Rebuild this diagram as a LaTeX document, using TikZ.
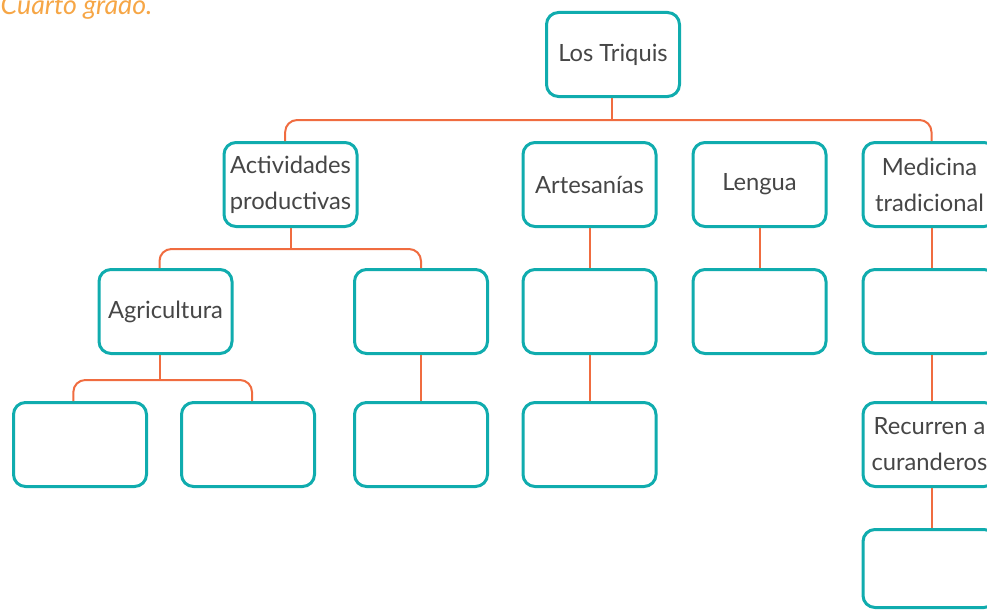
\documentclass[tikz,border=0pt]{standalone}
\usepackage{fontspec}
\setmainfont{Lato}
\definecolor{turquesa}{RGB}{16,172,174}
\definecolor{naranja}{RGB}{240,108,64}
\definecolor{titulo}{RGB}{246,166,70}
\definecolor{texto}{RGB}{70,70,70}
\begin{document}
\begin{tikzpicture}[x=0.75pt,y=-0.75pt,
  caja/.style={rectangle, rounded corners=9pt, draw=turquesa, line width=2.25pt, fill=white,
    minimum width=99.75pt, minimum height=63pt, inner sep=2pt, align=center, text=texto,
    font=\fontsize{17.8}{27}\selectfont},
  linea/.style={draw=naranja, line width=1.5pt}]
\useasboundingbox (0,0) rectangle (987,610);
\clip (0,0) rectangle (987,610);
\node [anchor=base west, text=titulo, font=\fontsize{20}{24}\selectfont\itshape] (grado) at (-4,15) {Cuarto grado.};
% primer nivel
\node [caja] (trq) at (613,54.5) {Los Triquis};
% segundo nivel
\node [caja] (act) at (290.5,184.5) {Actividades\\productivas};
\node [caja] (art) at (589.5,184.5) {Artesanías};
\node [caja] (len) at (759.5,184.5) {Lengua};
\node [caja] (med) at (929.5,184.5) {Medicina\\tradicional};
% tercer nivel
\node [caja] (agr) at (165.5,311.5) {Agricultura};
\node [caja] (vac1) at (421,311.5) {};
\node [caja] (vac2) at (589.5,311.5) {};
\node [caja] (vac3) at (759.5,311.5) {};
\node [caja] (vac4) at (929.5,311.5) {};
% cuarto nivel
\node [caja] (agr1) at (80,444.5) {};
\node [caja] (agr2) at (248,444.5) {};
\node [caja] (vac5) at (421,444.5) {};
\node [caja] (vac6) at (589.5,444.5) {};
\node [caja] (cur) at (929.5,444.5) {Recurren a\\curanderos};
\node [caja, minimum height=58.5pt] (fin) at (929.5,568.5) {};
% conectores
\draw [linea] ([xshift=-0.75pt]trq.south) -- ++(0,22);
\draw [linea, rounded corners=9pt] ([xshift=-4pt]act.north) -- ++(0,-21) -| ([xshift=1.5pt]med.north);
\draw [linea] (act.south) -- ++(0,21);
\draw [linea, rounded corners=9pt] ([xshift=-4.5pt]agr.north) -- ++(0,-19) -| (vac1.north);
\draw [linea] ([xshift=-4.5pt]agr.south) -- ++(0,25);
\draw [linea, rounded corners=9pt] ([xshift=-5pt]agr1.north) -- ++(0,-21) -| ([xshift=3pt]agr2.north);
\draw [linea] (vac1.south) -- (vac5.north);
\draw [linea] (art.south) -- (vac2.north);
\draw [linea] (vac2.south) -- (vac6.north);
\draw [linea] (len.south) -- (vac3.north);
\draw [linea] ([xshift=1.5pt]med.south) -- ([xshift=1.5pt]vac4.north);
\draw [linea] ([xshift=1.5pt]vac4.south) -- ([xshift=1.5pt]cur.north);
\draw [linea] ([xshift=1.5pt]cur.south) -- ([xshift=1.5pt]fin.north);
\end{tikzpicture}
\end{document}
